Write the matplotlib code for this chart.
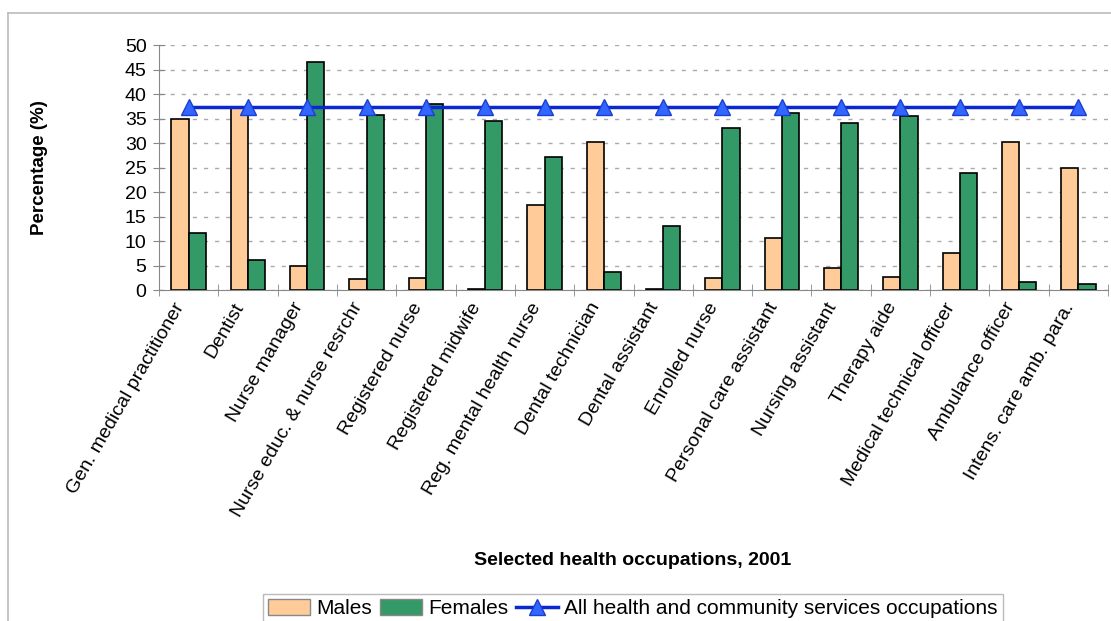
import numpy as np
import matplotlib
matplotlib.use("Agg")
import matplotlib.pyplot as plt
from matplotlib.lines import Line2D
from matplotlib.patches import Patch
from matplotlib.transforms import ScaledTranslation

plt.rcParams["font.family"] = ["Liberation Sans", "DejaVu Sans"]

occupations = [
    "Gen. medical practitioner", "Dentist", "Nurse manager",
    "Nurse educ. & nurse resrchr", "Registered nurse", "Registered midwife",
    "Reg. mental health nurse", "Dental technician", "Dental assistant",
    "Enrolled nurse", "Personal care assistant", "Nursing assistant",
    "Therapy aide", "Medical technical officer", "Ambulance officer",
    "Intens. care amb. para.",
]
males = [34.8, 37.3, 5.0, 2.2, 2.4, 0.3, 17.3, 30.3, 0.2, 2.5, 10.6, 4.5, 2.7, 7.5, 30.3, 24.8]
females = [11.6, 6.2, 46.5, 35.8, 38.0, 34.4, 27.1, 3.6, 13.0, 33.1, 36.2, 34.1, 35.6, 23.9, 1.7, 1.3]
all_occupations = [37.4] * len(occupations)

male_color = "#FFCC99"
female_color = "#339966"
line_color = "#0A28D2"

fig = plt.figure(figsize=(11.11, 6.21), dpi=100)
ax = fig.add_axes([159 / 1111, 1 - 290 / 621, (1108 - 159) / 1111, (290 - 45) / 621])

x = np.arange(len(occupations))
w = 0.29
ax.bar(x - w / 2, males, w, color=male_color, edgecolor="black", linewidth=1.2, zorder=2)
ax.bar(x + w / 2, females, w, color=female_color, edgecolor="black", linewidth=1.2, zorder=2)
ax.plot(x, all_occupations, color=line_color, linewidth=2.5, marker="^", markersize=11,
        markerfacecolor="#3366FF", markeredgecolor="#1A3FD0", zorder=3)

ax.set_xlim(-0.5, len(occupations) - 0.5)
ax.set_ylim(0, 50)
ax.set_yticks(range(0, 51, 5))
ax.yaxis.grid(True, linestyle=(0, (3, 5)), color="#AAAAAA", linewidth=1)
ax.set_axisbelow(True)

ax.set_xticks(x)
ax.set_xticklabels(occupations, rotation=60, ha="right", rotation_mode="anchor", fontsize=14)
ax.set_xticks(np.arange(-0.5, len(occupations)), minor=True)
ax.tick_params(axis="x", which="major", length=0, pad=7)
ax.tick_params(axis="x", which="minor", length=8, direction="inout", color="#888888")
ax.tick_params(axis="y", labelsize=14, length=8, direction="inout", color="#888888", pad=5)

# nudge the slanted labels left so they end under their group
shift = ScaledTranslation(-11 / 72, 0, fig.dpi_scale_trans)
for lbl in ax.get_xticklabels():
    lbl.set_transform(lbl.get_transform() + shift)

for side in ["top", "right"]:
    ax.spines[side].set_visible(False)
for side in ["left", "bottom"]:
    ax.spines[side].set_color("#888888")

ax.set_ylabel("Percentage (%)", fontsize=13.5, fontweight="bold")
ax.yaxis.set_label_coords((48 - 159) / (1108 - 159), 0.5)
ax.set_xlabel("Selected health occupations, 2001", fontsize=14, fontweight="bold")
ax.xaxis.set_label_coords((633 - 159) / (1108 - 159), -(552 - 290) / (290 - 45))

handles = [
    Patch(facecolor=male_color, edgecolor="#888888"),
    Patch(facecolor=female_color, edgecolor="#888888"),
    Line2D([0], [0], color=line_color, linewidth=2.5, marker="^", markersize=11,
           markerfacecolor="#3366FF", markeredgecolor="#1A3FD0"),
]
fig.legend(handles, ["Males", "Females", "All health and community services occupations"],
           loc="upper center", bbox_to_anchor=(633 / 1111, 1 - 594 / 621), ncol=3, fontsize=15,
           frameon=True, fancybox=False, edgecolor="#AAAAAA", handlelength=2.0,
           handleheight=0.8, handletextpad=0.3, columnspacing=0.4, borderpad=0.25,
           borderaxespad=0)

# light frame around the chart area
fig.add_artist(Line2D([8 / 1111, 8 / 1111], [0, 1 - 13 / 621], color="#BBBBBB", linewidth=1.2,
                      transform=fig.transFigure))
fig.add_artist(Line2D([8 / 1111, 1], [1 - 13 / 621, 1 - 13 / 621], color="#BBBBBB", linewidth=1.2,
                      transform=fig.transFigure))

fig.savefig("out.png", dpi=100)
plt.close(fig)
